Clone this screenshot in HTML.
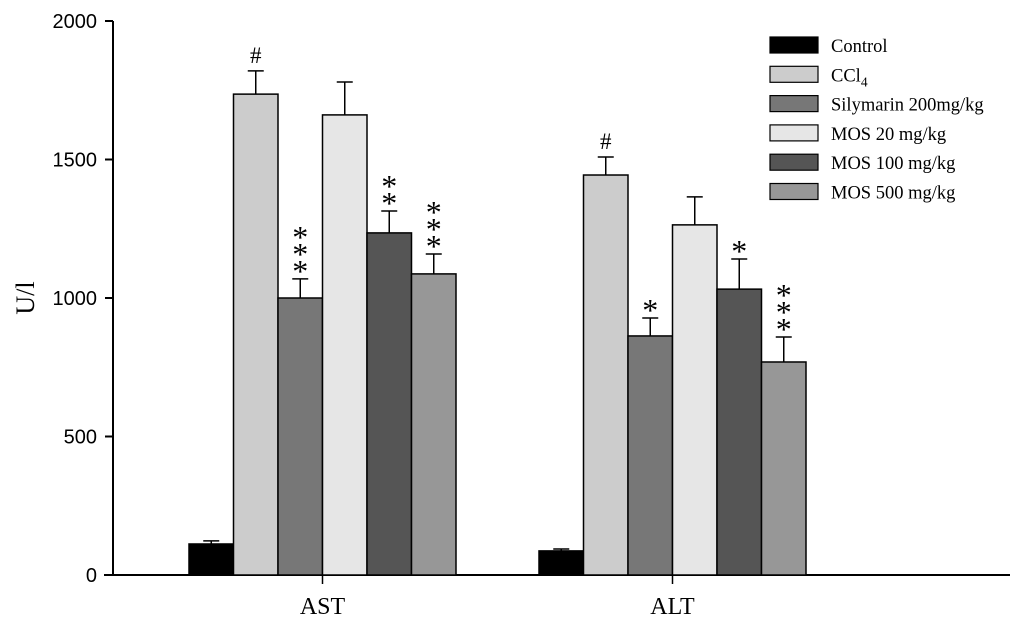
<!DOCTYPE html>
<html><head><meta charset="utf-8"><style>
body{margin:0;background:#fff}
svg text{font-family:"Liberation Serif",serif;fill:#000}
svg text.sans{font-family:"Liberation Sans",sans-serif}
</style></head><body>
<svg id="chart" width="1024" height="624" xmlns="http://www.w3.org/2000/svg"></svg>
<script>
const categories=["AST","ALT"];
const seriesNames=["Control","CCl4","Silymarin 200mg/kg","MOS 20 mg/kg","MOS 100 mg/kg","MOS 500 mg/kg"];
const astValues=[112,1736,1000,1661,1235,1087];
const astErrors=[11,84,69,119,79,72];
const altValues=[87,1444,863,1264,1032,769];
const altErrors=[7,65,65,101,109,90];
const astMarks=["","#","***","","**","***"];
const altMarks=["","#","*","","*","***"];
const yTicks=[0,500,1000,1500,2000];
const colors=["#000","#cccccc","#777777","#e6e6e6","#555555","#979797"];
const values=[astValues,altValues],errors=[astErrors,altErrors],marks=[astMarks,altMarks];
const svg=document.getElementById('chart');
const NS="http://www.w3.org/2000/svg";
function el(t,a,p){const e=document.createElementNS(NS,t);for(const k in a)e.setAttribute(k,a[k]);(p||svg).appendChild(e);return e;}
const y0=575,y1=21,ymax=2000;
const y=v=>y0-(v/ymax)*(y0-y1);
const groupStart=[189,539],bw=44.5;
const x=(g,i)=>groupStart[g]+i*bw;
let a=el('line',{x1:113,y1:y1,x2:113,y2:y0+0.5,stroke:'#000','stroke-width':2});


a=el('line',{x1:104,y1:y0,x2:1010,y2:y0,stroke:'#000','stroke-width':2});


yTicks.forEach(t=>{
  const l=el('line',{x1:105,x2:113,y1:y(t),y2:y(t),stroke:'#000','stroke-width':2});
  
  
  const tx=el('text',{x:97,y:y(t)+7,'text-anchor':'end','font-size':20,'class':'sans'});
  tx.textContent=t;
  
  
});
const yt=el('text',{x:0,y:0,'font-size':26,'text-anchor':'middle',transform:'translate(34,298) rotate(-90)'});
yt.textContent='U/l';


categories.forEach((c,g)=>{
  const cx=x(g,3);
  const tk=el('line',{x1:cx,x2:cx,y1:y0,y2:584,stroke:'#000','stroke-width':1.5});
  
  
  const lb=el('text',{x:cx,y:614,'text-anchor':'middle','font-size':24});
  lb.textContent=c;
  
  
  values[g].forEach((v,i)=>{
    const bx=x(g,i),top=y(v),ex=bx+bw/2,et=y(v+errors[g][i]);
    const e=el('line',{x1:ex,x2:ex,y1:top,y2:et,stroke:'#000','stroke-width':1.5});
    
    
    const cap=el('line',{x1:ex-8,x2:ex+8,y1:et,y2:et,stroke:'#000','stroke-width':1.5});
    
    
    const r=el('rect',{x:bx,y:top,width:bw,height:y0-top,fill:colors[i],stroke:'#000','stroke-width':1.5});
    
    
    const m=marks[g][i];
    if(m==='#'){
      const t=el('text',{x:ex,y:et-8,'text-anchor':'middle','font-size':23});
      t.textContent='#';
      
      
    } else if(m){
      for(let k=0;k<m.length;k++){
        const cy=et-16-k*17;
        const t=el('text',{x:ex,y:cy+19,'text-anchor':'middle','font-size':32});
        t.textContent='*';
        
        
      }
    }
  });
});
seriesNames.forEach((n,i)=>{
  const ly=37+i*29.3;
  const r=el('rect',{x:770,y:ly,width:48,height:16,fill:colors[i],stroke:'#000','stroke-width':1.2});
  
  
  const t=el('text',{x:831,y:ly+15,'font-size':18.5});
  if(i===1){t.innerHTML='CCl<tspan font-size="13.5" dy="5">4</tspan>';}else t.textContent=n;
  
  
});
</script>
</body></html>
